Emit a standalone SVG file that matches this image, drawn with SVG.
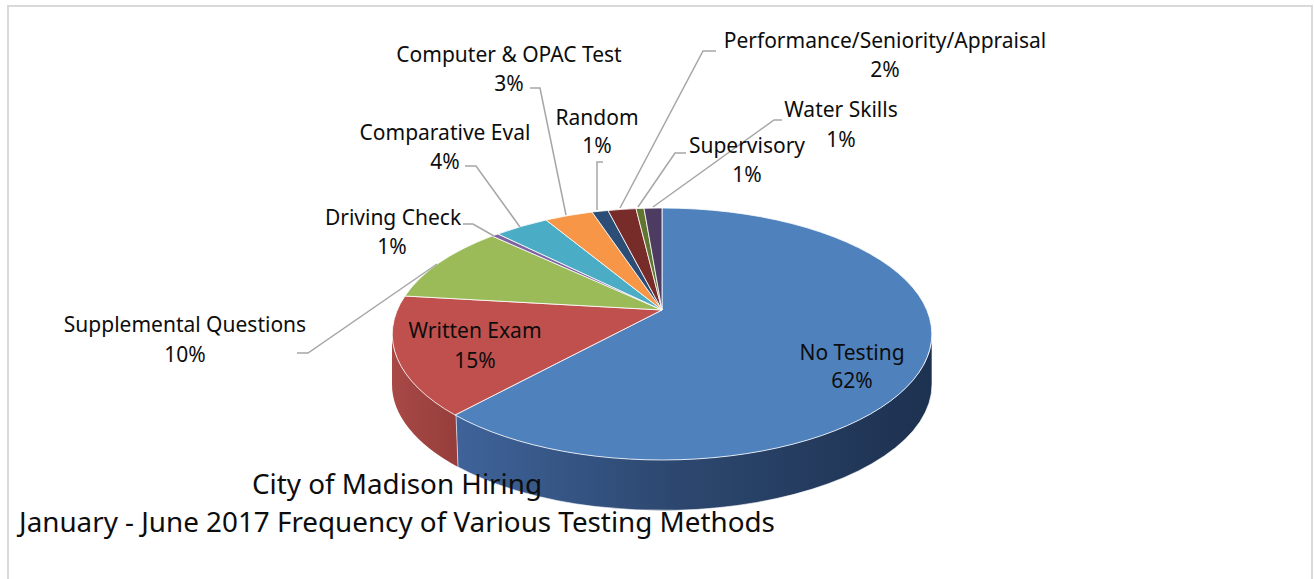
<svg xmlns="http://www.w3.org/2000/svg" width="1314" height="579" viewBox="0 0 1314 579">
<defs>
<style>
.lbl{font-family:"Noto Sans","Open Sans","Liberation Sans",sans-serif;font-size:21px;fill:#0d0d0d;text-anchor:middle}
.ttl{font-family:"Noto Sans","Open Sans","Liberation Sans",sans-serif;font-size:27.8px;fill:#0d0d0d;text-anchor:middle}
.top{stroke:#ffffff;stroke-width:1;stroke-opacity:0.8;stroke-linejoin:round}
.lead{fill:none;stroke:#a6a6a6;stroke-width:1.5}
</style>
<linearGradient id="gBlueWall" gradientUnits="userSpaceOnUse" x1="455" y1="0" x2="932" y2="0">
<stop offset="0" stop-color="#3f639a"/>
<stop offset="0.45" stop-color="#2d4870"/>
<stop offset="1" stop-color="#1d3150"/>
</linearGradient>
<linearGradient id="gRedWall" gradientUnits="userSpaceOnUse" x1="392" y1="0" x2="456" y2="0">
<stop offset="0" stop-color="#a84946"/>
<stop offset="1" stop-color="#963e3b"/>
</linearGradient>
</defs>
<rect x="0" y="0" width="1314" height="579" fill="#ffffff"/>
<rect x="8" y="6" width="1304" height="700" fill="#ffffff" stroke="#d9d9d9" stroke-width="2"/>

<g id="pie">
<g id="walls">
<path d="M392,334 A270,126 0 0 0 456,415 L458,467 A270,126 0 0 1 392,384 Z" fill="url(#gRedWall)"/>
<path d="M456,415 A270,126 0 0 0 932,334 L932,384 A270,126 0 0 1 458,467 Z" fill="url(#gBlueWall)" stroke="#ffffff" stroke-width="1" stroke-opacity="0.6"/>
</g>
<g id="slice-no-testing"><path class="top" d="M662,310 L662,208 A270,126 0 1 1 455,415 Z" fill="#4f81bd"/></g>
<g id="slice-written-exam"><path class="top" d="M662,310 L455,415 A270,126 0 0 1 405,296 Z" fill="#c0504d"/></g>
<g id="slice-supplemental"><path class="top" d="M662,310 L405,296 A270,126 0 0 1 492,236 Z" fill="#9bbb59"/></g>
<g id="slice-driving"><path class="top" d="M662,310 L492,236 A270,126 0 0 1 498,234 Z" fill="#8064a2"/></g>
<g id="slice-comparative"><path class="top" d="M662,310 L498,234 A270,126 0 0 1 546,220 Z" fill="#4bacc6"/></g>
<g id="slice-computer"><path class="top" d="M662,310 L546,220 A270,126 0 0 1 592,212 Z" fill="#f79646"/></g>
<g id="slice-random"><path class="top" d="M662,310 L592,212 A270,126 0 0 1 608,210.5 Z" fill="#2c4d75"/></g>
<g id="slice-performance"><path class="top" d="M662,310 L608,210.5 A270,126 0 0 1 636,208.6 Z" fill="#772c2a"/></g>
<g id="slice-supervisory"><path class="top" d="M662,310 L636,208.6 A270,126 0 0 1 644,208.3 Z" fill="#5f7530"/></g>
<g id="slice-water"><path class="top" d="M662,310 L644,208.3 A270,126 0 0 1 662,208 Z" fill="#4d3b62"/></g>
</g>

<g id="connectors">
<path class="lead" d="M297,353 L308,353 L437,264"/>
<path class="lead" d="M463,224 L473,224 L494,236"/>
<path class="lead" d="M465,166 L476,166 L520,227"/>
<path class="lead" d="M530,88 L540,88 L566,215"/>
<path class="lead" d="M603,162 L597,162 L597,210"/>
<path class="lead" d="M716,51 L703,51 L620,208"/>
<path class="lead" d="M686,153 L675,153 L638,207"/>
<path class="lead" d="M782,120 L774,120 L653,207"/>
</g>

<g id="label-performance"><text class="lbl" x="885" y="48">Performance/Seniority/Appraisal</text><text class="lbl" x="885" y="77">2%</text></g>
<g id="label-computer"><text class="lbl" x="509" y="62">Computer &amp; OPAC Test</text><text class="lbl" x="509" y="91">3%</text></g>
<g id="label-random"><text class="lbl" x="597" y="125">Random</text><text class="lbl" x="597" y="153">1%</text></g>
<g id="label-comparative"><text class="lbl" x="445" y="140">Comparative Eval</text><text class="lbl" x="445" y="169">4%</text></g>
<g id="label-water"><text class="lbl" x="841" y="117">Water Skills</text><text class="lbl" x="841" y="147">1%</text></g>
<g id="label-supervisory"><text class="lbl" x="747" y="153">Supervisory</text><text class="lbl" x="747" y="182">1%</text></g>
<g id="label-driving"><text class="lbl" x="393" y="225">Driving Check</text><text class="lbl" x="392" y="254">1%</text></g>
<g id="label-supplemental"><text class="lbl" x="185" y="332">Supplemental Questions</text><text class="lbl" x="185" y="362">10%</text></g>
<g id="label-written"><text class="lbl" x="475" y="338">Written Exam</text><text class="lbl" x="475" y="368">15%</text></g>
<g id="label-no-testing"><text class="lbl" x="852" y="360">No Testing</text><text class="lbl" x="852" y="388">62%</text></g>

<g id="title">
<text class="ttl" x="397" y="494">City of Madison Hiring</text>
<text class="ttl" x="397" y="532">January - June 2017 Frequency of Various Testing Methods</text>
</g>
</svg>
